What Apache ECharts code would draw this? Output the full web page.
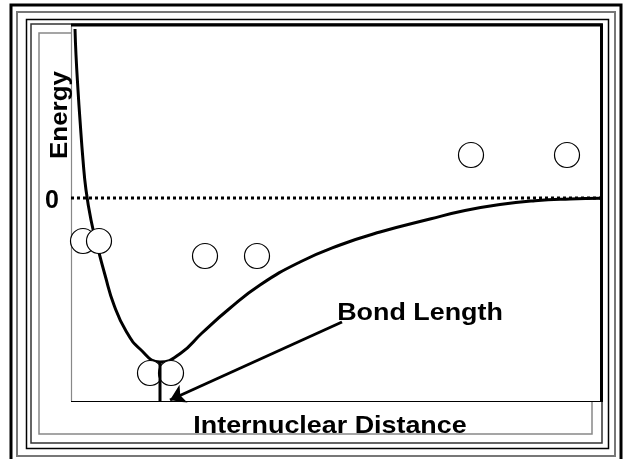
<!DOCTYPE html>
<html>
<head>
<meta charset="utf-8">
<script src="https://cdn.jsdelivr.net/npm/echarts@6/dist/echarts.min.js"></script>
<style>
  html, body { margin: 0; padding: 0; background: #fff; }
  #container { width: 623px; height: 459px; }
</style>
</head>
<body>
<div id="container"></div>
<script>
  // potential energy curve (distance, energy)
  let distance = [0.04, 0.05, 0.07, 0.09, 0.12, 0.15, 0.20, 0.26, 0.34, 0.43, 0.55, 0.69, 0.89,
                  1.10, 1.31, 1.58, 1.89, 2.29, 2.69, 3.09, 3.59, 3.94, 4.29, 4.64, 4.99, 5.30];
  let energy = [1.69, 1.43, 1.08, 0.78, 0.38, 0.08, -0.22, -0.47, -0.77, -1.07, -1.33, -1.51, -1.64,
                -1.55, -1.35, -1.11, -0.87, -0.64, -0.47, -0.34, -0.21, -0.125, -0.065, -0.028, -0.01, -0.003];
  // atoms (circles)
  let atomX = [0.12, 0.28, 1.34, 1.86, 0.79, 1.00, 4.00, 4.96];
  let atomY = [-0.43, -0.43, -0.58, -0.58, -1.75, -1.75, 0.43, 0.43];
  // zero line
  let zeroX = [0, 5.30];
  // bond length marker and arrow
  let bondX = 0.89;
  let bondY = [-1.64, -2.03];
  let arrowFrom = [2.71, -1.24];
  let arrowTo = [0.99, -2.02];

  let myChart = echarts.init(document.getElementById('container'));
  let font = '"Liberation Sans", Arial, sans-serif';

  function frame(x1, y1, x2, y2, color, w) {
    return {
      type: 'rect', z: 0,
      shape: { x: x1, y: y1, width: x2 - x1, height: y2 - y1 },
      style: { fill: 'none', stroke: color, lineWidth: w }
    };
  }
  function seg(x1, y1, x2, y2, color, w) {
    return {
      type: 'line', z: 1,
      shape: { x1: x1, y1: y1, x2: x2, y2: y2 },
      style: { stroke: color, lineWidth: w }
    };
  }
  function label(text, x, y, size, sx, rot) {
    return {
      type: 'text', z: 10, x: x, y: y, scaleX: sx, rotation: rot || 0,
      style: {
        text: text, fill: '#000', font: 'bold ' + size + 'px ' + font,
        align: 'center', verticalAlign: 'middle'
      }
    };
  }

  let option = {
    animation: false,
    backgroundColor: '#fff',
    grid: { left: 71, top: 25, width: 530, height: 376 },
    xAxis: { type: 'value', min: 0, max: 5.30, show: false },
    yAxis: { type: 'value', min: -2.03, max: 1.73, show: false },
    graphic: [
      frame(11, 5, 621, 470, '#000', 3),
      frame(17, 12, 615, 456, '#777', 2),
      frame(26.5, 19.5, 608.5, 448.5, '#000', 1.5),
      frame(31, 24, 602, 443, '#333', 1.5),
      frame(39, 33, 592, 434, '#888', 1.5),
      {
        type: 'rect', z: 1,
        shape: { x: 71, y: 25, width: 530, height: 376 },
        style: { fill: '#fff' }
      },
      seg(71.5, 25, 71.5, 401, '#888', 1.2),
      seg(71, 401.5, 601, 401.5, '#000', 1.2),
      seg(71, 25, 603, 25, '#000', 3),
      seg(601.5, 24, 601.5, 402, '#000', 3),
      label('Energy', 61, 115, 23, 1.13, Math.PI / 2),
      label('0', 52, 201, 25, 1),
      label('Internuclear Distance', 330, 426, 24, 1.12),
      label('Bond Length', 420, 313, 24, 1.12)
    ],
    series: [
      {
        type: 'line',
        data: zeroX.map(function (x) { return [x, 0]; }),
        symbol: 'none',
        lineStyle: { color: '#000', width: 3, type: 'dotted' },
        z: 2
      },
      {
        type: 'line',
        data: distance.map(function (x, i) { return [x, energy[i]]; }),
        smooth: 0.5,
        symbol: 'none',
        lineStyle: { color: '#000', width: 3 },
        z: 3
      },
      {
        type: 'scatter',
        data: atomX.map(function (x, i) { return [x, atomY[i]]; }),
        symbol: 'circle',
        symbolSize: 25,
        itemStyle: { color: '#fff', borderColor: '#000', borderWidth: 1.2, opacity: 1 },
        z: 4
      },
      {
        type: 'line',
        data: bondY.map(function (y) { return [bondX, y]; }),
        symbol: 'none',
        lineStyle: { color: '#000', width: 3 },
        z: 5
      },
      {
        type: 'lines',
        coordinateSystem: 'cartesian2d',
        data: [{ coords: [arrowFrom, arrowTo] }],
        symbol: ['none', 'arrow'],
        symbolSize: 15,
        lineStyle: { color: '#000', width: 3, opacity: 1 },
        z: 5
      }
    ]
  };
  if (option && typeof option === 'object') {
    myChart.setOption(option, true);
  }
</script>
</body>
</html>
